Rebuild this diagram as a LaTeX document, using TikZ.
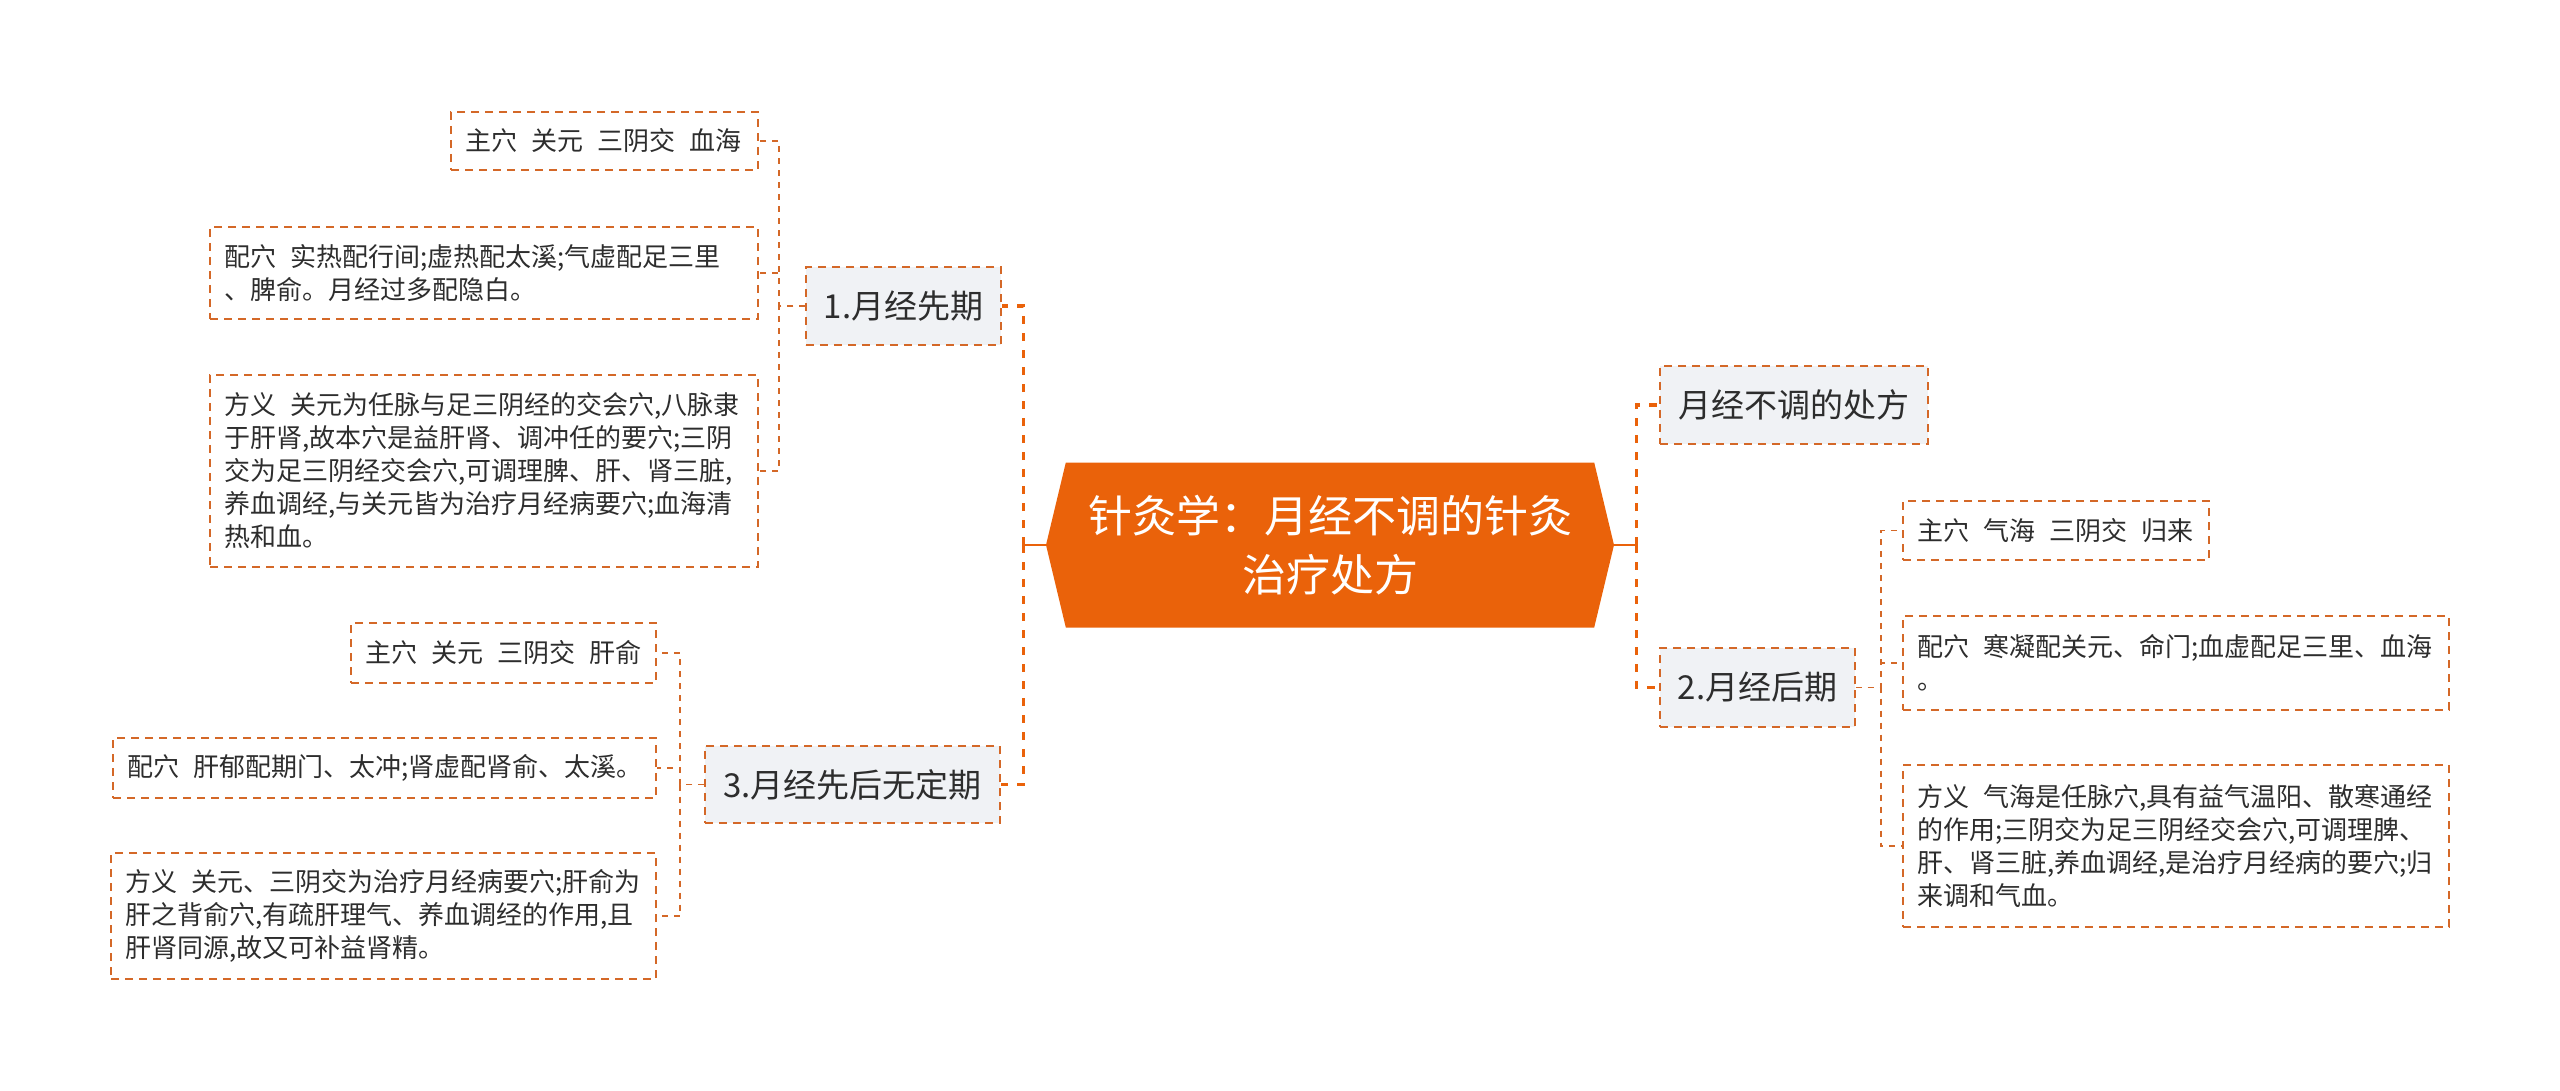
\documentclass[tikz,border=0pt]{standalone}
\usepackage{fontspec}
\setmainfont{Noto Sans CJK SC}
\usetikzlibrary{shapes.symbols,positioning}

\definecolor{rootfill}{RGB}{234,98,10}
\definecolor{linkline}{RGB}{212,104,40}
\definecolor{branchfill}{RGB}{240,242,245}
\definecolor{inktext}{RGB}{45,45,45}

\newcommand{\kgap}{\nobreak\hspace{0.55em}\nobreak}

\tikzset{
  leafbox/.style={draw=linkline, line width=0.9pt, dash pattern=on 4pt off 3pt,
    align=left, inner xsep=7pt, text=inktext, font=\fontsize{13}{16.5}\selectfont},
  branchbox/.style={draw=linkline, fill=branchfill, line width=0.9pt,
    dash pattern=on 4pt off 3pt, inner xsep=7pt, text=inktext,
    font=\fontsize{16.5}{20}\selectfont},
  twig/.style={draw=linkline, line width=0.9pt, dash pattern=on 3pt off 3pt},
  trunk/.style={draw=rootfill, line width=1.7pt, dash pattern=on 4pt off 4.5pt},
  stem/.style={draw=rootfill, line width=1.4pt},
}

\begin{document}
\begin{tikzpicture}[x=0.5pt, y=-0.5pt]
  \useasboundingbox (0,0) rectangle (2560,1091);

  % centre
  \node[signal, signal to=west and east, signal pointer angle=153, fill=rootfill,
    text=white, minimum width=284pt, minimum height=82.5pt, align=center,
    font=\fontsize{22}{29.5}\selectfont] (root) at (1330,545)
    {针灸学：月经不调的针灸\\治疗处方};

  % branches
  \node[branchbox, minimum width=97.5pt, minimum height=39pt] (early) at (903.5,306) {1.月经先期};
  \node[branchbox, minimum width=147.5pt, minimum height=38.5pt] (irregular) at (852.5,784.5) {3.月经先后无定期};
  \node[branchbox, minimum width=134pt, minimum height=39pt] (rx) at (1794,405) {月经不调的处方};
  \node[branchbox, minimum width=97.5pt, minimum height=39.5pt] (late) at (1757.5,687.5) {2.月经后期};

  % leaves of 1.
  \node[leafbox, text width=139.5pt, minimum height=29pt] (early-main) at (604.5,141)
    {主穴\kgap 关元\kgap 三阴交\kgap 血海};
  \node[leafbox, text width=260pt, minimum height=46pt] (early-extra) at (484,273)
    {配穴\kgap 实热配行间;虚热配太溪;气虚配足三里\\、脾俞。月经过多配隐白。};
  \node[leafbox, text width=260pt, minimum height=96pt] (early-note) at (484,471)
    {方义\kgap 关元为任脉与足三阴经的交会穴,八脉隶\\于肝肾,故本穴是益肝肾、调冲任的要穴;三阴\\交为足三阴经交会穴,可调理脾、肝、肾三脏,\\养血调经,与关元皆为治疗月经病要穴;血海清\\热和血。};

  % leaves of 3.
  \node[leafbox, text width=138.5pt, minimum height=30pt] (irr-main) at (503.5,653)
    {主穴\kgap 关元\kgap 三阴交\kgap 肝俞};
  \node[leafbox, text width=257.5pt, minimum height=30pt] (irr-extra) at (384.5,768)
    {配穴\kgap 肝郁配期门、太冲;肾虚配肾俞、太溪。};
  \node[leafbox, text width=258.5pt, minimum height=63pt] (irr-note) at (383.5,916)
    {方义\kgap 关元、三阴交为治疗月经病要穴;肝俞为\\肝之背俞穴,有疏肝理气、养血调经的作用,且\\肝肾同源,故又可补益肾精。};

  % leaves of 2.
  \node[leafbox, text width=139pt, minimum height=29.5pt] (late-main) at (2056,530.5)
    {主穴\kgap 气海\kgap 三阴交\kgap 归来};
  \node[leafbox, text width=259pt, minimum height=47pt] (late-extra) at (2176,663)
    {配穴\kgap 寒凝配关元、命门;血虚配足三里、血海\\。};
  \node[leafbox, text width=259pt, minimum height=81pt] (late-note) at (2176,846)
    {方义\kgap 气海是任脉穴,具有益气温阳、散寒通经\\的作用;三阴交为足三阴经交会穴,可调理脾、\\肝、肾三脏,养血调经,是治疗月经病的要穴;归\\来调和气血。};

  % connectors
  \draw[stem] (root.west) -- ++(-22,0) coordinate (lhub);
  \draw[trunk] (lhub) |- (early.east);
  \draw[trunk] (lhub) |- (irregular.east);
  \draw[stem] (root.east) -- ++(22,0) coordinate (rhub);
  \draw[trunk] (rhub) |- (rx.west);
  \draw[trunk] (rhub) |- (late.west);

  \foreach \leaf in {main,extra,note} {
    \draw[twig] (early.west) -- ++(-26,0) |- (early-\leaf.east);
    \draw[twig] (irregular.west) -- ++(-24,0) |- (irr-\leaf.east);
    \draw[twig] (late.east) -- ++(25,0) |- (late-\leaf.west);
  }
\end{tikzpicture}
\end{document}
